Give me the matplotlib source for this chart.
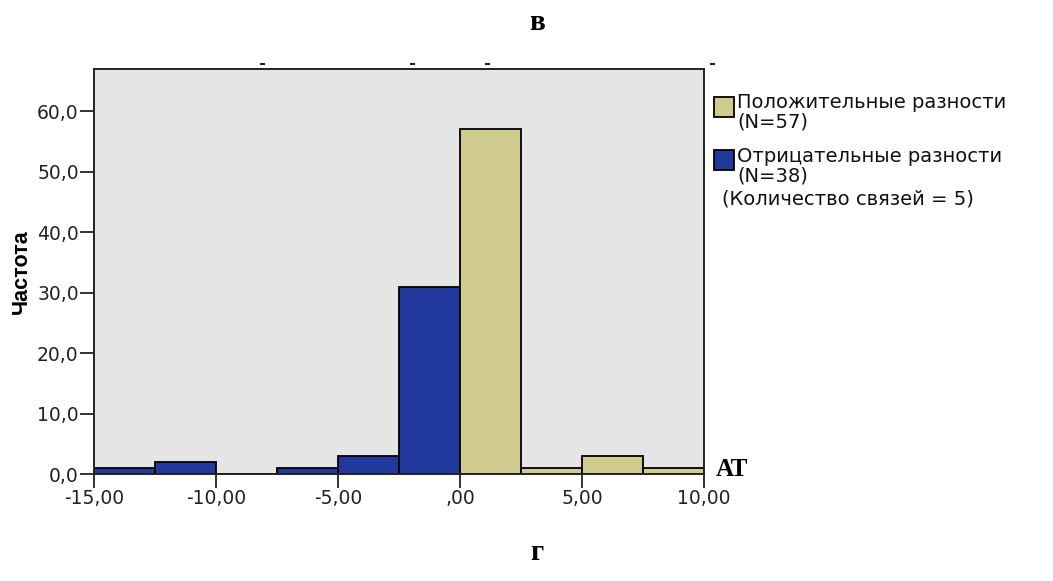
import matplotlib.pyplot as plt
from matplotlib.patches import Rectangle
from matplotlib.lines import Line2D

# bins of width 2.5
neg_left = [-15.0, -12.5, -10.0, -7.5, -5.0, -2.5]
neg_counts = [1, 2, 0, 1, 3, 31]
pos_left = [0.0, 2.5, 5.0, 7.5]
pos_counts = [57, 1, 3, 1]
bin_width = 2.5

yticks = [0, 10, 20, 30, 40, 50, 60]
ytick_labels = ["0,0", "10,0", "20,0", "30,0", "40,0", "50,0", "60,0"]
xticks = [-15, -10, -5, 0, 5, 10]
xtick_labels = ["-15,00", "-10,00", "-5,00", ",00", "5,00", "10,00"]

pos_color = "#CFCA8D"
neg_color = "#21399C"

plt.rcParams["font.family"] = ["DejaVu Sans"]

W, H = 1053, 581
fig = plt.figure(figsize=(W / 100, H / 100), dpi=100)
ax = fig.add_axes([94 / W, 1 - 474 / H, 610 / W, 405 / H])
ax.set_facecolor("#E5E5E5")

ax.bar(neg_left, neg_counts, width=bin_width, align="edge",
       color=neg_color, edgecolor="black", linewidth=1.3)
ax.bar(pos_left, pos_counts, width=bin_width, align="edge",
       color=pos_color, edgecolor="black", linewidth=1.3)

ax.set_xlim(-15, 10)
ax.set_ylim(0, 67)
ax.set_yticks(yticks)
ax.set_yticklabels(ytick_labels, fontsize=13.5, color="#222222")
ax.set_xticks(xticks)
ax.set_xticklabels(xtick_labels, fontsize=13.5, color="#222222")
ax.tick_params(length=10, width=1.3, pad=1, color="#222222")
for s in ax.spines.values():
    s.set_linewidth(1.4)
    s.set_color("#222222")
ax.set_ylabel("Частота", fontsize=15.5, fontweight="bold",
              family="Liberation Sans", labelpad=4)

# legend drawn by hand
def fx(px):
    return px / W

def fy(py):
    return 1 - py / H

fig.patches.append(Rectangle((fx(714), fy(117)), 20 / W, 20 / H, facecolor=pos_color,
                             edgecolor="black", linewidth=1.3, transform=fig.transFigure))
fig.patches.append(Rectangle((fx(714), fy(170)), 20 / W, 20 / H, facecolor=neg_color,
                             edgecolor="black", linewidth=1.3, transform=fig.transFigure))
legend_lines = [
    (737, 103, "Положительные разности"),
    (737, 122, "(N=57)"),
    (737, 157, "Отрицательные разности"),
    (737, 176, "(N=38)"),
    (722, 199, "(Количество связей = 5)"),
]
for x, y, t in legend_lines:
    fig.text(fx(x), fy(y), t, fontsize=14, color="#111111", ha="left", va="center")

fig.text(fx(537), fy(22), "в", fontsize=21, fontweight="bold", family="Liberation Serif",
         ha="center", va="center")
fig.text(fx(537), fy(553), "г", fontsize=21, fontweight="bold", family="Liberation Serif",
         ha="center", va="center")
fig.text(fx(732), fy(470), "АТ", fontsize=18, fontweight="bold", family="Liberation Serif",
         ha="center", va="center")

# small stray marks above the frame
for xm in [261, 411, 486, 711]:
    fig.lines.append(Line2D([fx(xm), fx(xm + 3)], [fy(64), fy(64)], color="#222222",
                            linewidth=1.5, transform=fig.transFigure))

fig.savefig("out.png", dpi=100, facecolor="white")
